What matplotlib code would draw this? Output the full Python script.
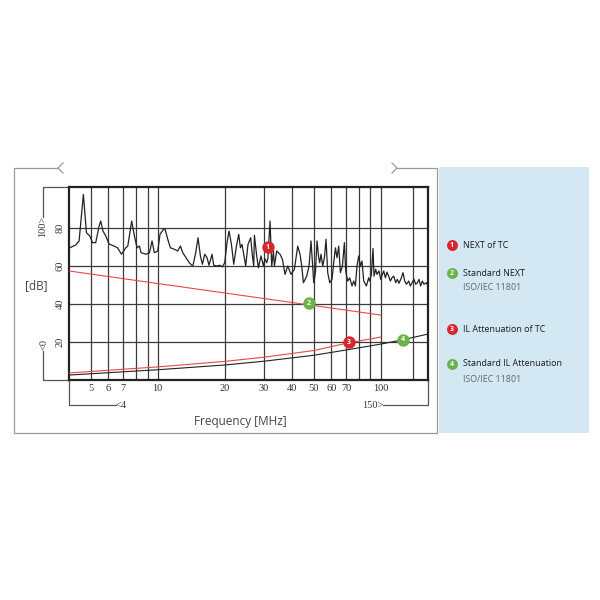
import matplotlib
matplotlib.use("Agg")
import matplotlib.pyplot as plt
from matplotlib.ticker import NullLocator

# ---- data (frequency in MHz, level in dB) ----
next_f = [4.03, 4.29, 4.44, 4.64, 4.79, 4.96, 5.10, 5.27, 5.46, 5.55, 5.68, 5.85,
          6.05, 6.37, 6.60, 6.88, 7.19, 7.34, 7.64, 7.86, 8.08, 8.28, 8.42, 8.86,
          9.18, 9.43, 9.66, 10.0, 10.24, 10.61, 10.78, 11.09, 11.40, 11.88, 12.29,
          12.64, 12.95, 13.40, 13.87, 14.21, 14.40, 14.80, 15.16, 15.54, 15.86,
          16.25, 16.64, 16.98, 17.52, 17.83, 18.33, 18.97, 19.50, 19.97, 20.45,
          20.88, 21.41, 21.92, 22.54, 23.08, 23.49, 23.88, 24.38, 24.81, 25.40,
          26.12, 26.59, 26.95, 27.14, 27.79, 28.29, 29.05, 29.79, 30.28, 30.82,
          31.2, 31.89, 32.45, 33.03, 33.37, 34.17, 35.36, 36.25, 37.24, 38.28,
          39.62, 41.02, 42.45, 43.47, 44.24, 45.02, 46.59, 47.71, 48.70, 49.57,
          50.08, 50.96, 51.80, 52.72, 53.27, 54.00, 54.95, 55.93, 56.86, 57.87,
          59.08, 60.50, 61.56, 62.66, 63.68, 64.82, 65.96, 67.35, 68.74, 69.67,
          71.12, 72.61, 74.35, 75.66, 77.00, 78.29, 79.68, 81.10, 82.44, 83.91,
          86.28, 88.36, 89.28, 90.86, 92.37, 93.33, 94.97, 96.25, 98.26, 100.0,
          101.8, 103.2, 105.0, 106.7, 108.6, 110.5, 112.4, 114.4, 116.8, 118.8,
          120.8, 123.8, 125.9, 128.2, 130.4, 133.6, 135.9, 138.2, 141.1, 143.5,
          146.2, 148.5, 151.1, 153.8, 156.4, 160.3, 163.0]
next_db = [69.6, 71.1, 73.2, 97.7, 77.5, 75.8, 72.3, 72.3, 81.1, 83.7, 78.4, 75.8,
           71.6, 70.5, 69.6, 66.2, 69.6, 70.5, 83.7, 75.8, 69.6, 70.5, 67.0, 66.2,
           67.0, 73.2, 67.0, 67.9, 76.7, 79.3, 79.6, 74.1, 69.6, 68.8, 67.9,
           70.5, 67.0, 64.4, 61.7, 60.4, 60.4, 67.0, 74.9, 65.3, 60.9,
           66.2, 64.4, 60.4, 66.2, 60.4, 60.0, 60.4, 59.6, 61.7, 72.3,
           78.4, 71.4, 60.9, 70.5, 76.7, 69.6, 71.4, 65.3, 60.0, 71.4,
           74.9, 65.3, 60.0, 76.2, 65.3, 59.1, 65.3, 60.0, 63.8, 61.7,
           64.0, 83.7, 60.0, 67.9, 60.0, 67.9, 66.2, 63.5, 55.6, 60.0,
           55.6, 58.3, 70.5, 66.2, 60.0, 51.2, 54.7, 60.0, 73.2, 59.1,
           51.2, 56.5, 73.2, 64.4, 61.7, 66.2, 60.0, 64.4, 74.1, 56.5,
           51.2, 53.0, 61.7, 69.6, 64.4, 70.5, 56.5, 60.0, 72.3, 57.4,
           52.1, 53.8, 49.5, 52.1, 49.5, 60.0, 65.3, 60.0, 62.6, 52.1,
           49.5, 53.8, 52.1, 55.6, 69.2, 54.7, 58.3, 55.6, 57.4, 53.0,
           55.6, 57.4, 53.8, 56.8, 54.7, 52.1, 53.8, 54.7, 51.2, 53.0,
           50.9, 53.8, 56.5, 52.1, 50.4, 52.1, 49.5, 51.2, 53.0, 50.4,
           51.2, 53.0, 49.5, 52.1, 50.4, 51.2, 49.5]

std_next_f = [4, 100]
std_next_db = [57.4, 34.2]

il_tc_f = [4, 10, 20, 30, 50, 70, 100]
il_tc_db = [3.7, 6.9, 9.8, 12.0, 15.5, 19.3, 22.6]

std_il_f = [4, 10, 20, 30, 50, 70, 100, 125, 163]
std_il_db = [2.6, 5.4, 7.9, 9.9, 13.0, 15.8, 18.9, 21.1, 24.2]

x_ticks = [5, 6, 7, 10, 20, 30, 40, 50, 60, 70, 100]
x_grid = [5, 6, 7, 8, 9, 10, 20, 30, 40, 50, 60, 70, 80, 90, 100, 140]
y_ticks = [20, 40, 60, 80]

badge_ids = ["1", "2", "3", "4"]
badge_f = [31.1, 47.7, 71.9, 125.5]
badge_db = [70.0, 40.4, 20.0, 21.1]

legend_titles = ["NEXT of TC", "Standard NEXT", "IL Attenuation of TC", "Standard IL Attenuation"]
legend_subs = [None, "ISO/IEC 11801", None, "ISO/IEC 11801"]

RED = "#d8262c"
GREEN = "#6ab24a"
badge_colors = [RED, GREEN, RED, GREEN]
LINE_RED = "#e8474b"
FRAME = "#9a9a9a"
PANEL = "#d4e8f4"
SANS = "Open Sans"
SERIF = "Liberation Serif"

fig = plt.figure(figsize=(6, 6), dpi=100, facecolor="white")

# decoration layer in pixel coordinates (frame, brackets, side panel)
deco = fig.add_axes([0, 0, 1, 1], zorder=0)
deco.set_xlim(0, 600)
deco.set_ylim(600, 0)
deco.axis("off")

# outer frame with broken top edge
deco.plot([58, 14, 14, 437, 437, 397], [168, 168, 433, 433, 168, 168], color=FRAME, lw=0.9)
deco.plot([63, 58, 63], [163, 168, 173], color=FRAME, lw=0.9)
deco.plot([392, 397, 392], [163, 168, 173], color=FRAME, lw=0.9)

# side panel
deco.add_patch(plt.Rectangle((439, 167), 150, 266, facecolor=PANEL, edgecolor="none"))

# range brackets
bk = "#555555"
deco.plot([69, 43, 43], [187, 187, 217], color=bk, lw=0.9)
deco.plot([43, 43, 69], [351, 380, 380], color=bk, lw=0.9)
deco.plot([69, 69, 116], [380, 405, 405], color=bk, lw=0.9)
deco.plot([383, 428, 428], [405, 405, 380], color=bk, lw=0.9)
deco.text(43, 226, "100>", rotation=90, ha="center", va="center",
          fontsize=7.5, family=SERIF, color="#333333")
deco.text(44, 344, "<0", rotation=90, ha="center", va="center",
          fontsize=7.5, family=SERIF, color="#333333")
deco.text(116, 406, "<4", ha="left", va="center",
          fontsize=7.5, family=SERIF, color="#333333")
deco.text(383, 406, "150>", ha="right", va="center",
          fontsize=7.5, family=SERIF, color="#333333")

deco.text(36, 286, "[dB]", ha="center", va="center", fontsize=8.5, family=SANS, color="#444444")
deco.text(240, 422, "Frequency [MHz]", ha="center", va="center", fontsize=8.5,
          family=SANS, color="#444444")

# legend inside the side panel
leg_y = [245, 273, 329, 364]
for bid, col, title, sub, y in zip(badge_ids, badge_colors, legend_titles, legend_subs, leg_y):
    deco.scatter([452], [y], s=62, color=col, zorder=3, linewidths=0)
    deco.text(452, y + 0.5, bid, ha="center", va="center", fontsize=5, color="white",
              fontweight="bold", family=SANS, zorder=4)
    deco.text(463, y, title, ha="left", va="center", fontsize=6.4, family=SANS, color="#1a1a1a")
    if sub:
        deco.text(463, y + 15, sub, ha="left", va="center", fontsize=6.4, family=SANS,
                  color="#666666")

# main chart
ax = fig.add_axes([69 / 600, 1 - 380 / 600, 359 / 600, 193 / 600], zorder=1)
ax.set_xscale("log")
ax.set_xlim(4, 163)
ax.set_ylim(0, 101.6)
ax.set_facecolor("white")

ax.vlines(x_grid, 0, 101.6, color="#3a3a3a", lw=0.9, zorder=1)
ax.hlines(y_ticks, 4, 163, color="#3a3a3a", lw=0.9, zorder=1)

ax.plot(next_f, next_db, color="#222222", lw=0.9, zorder=3)
ax.plot(std_next_f, std_next_db, color=LINE_RED, lw=0.8, zorder=3)
ax.plot(il_tc_f, il_tc_db, color=LINE_RED, lw=0.8, zorder=3)
ax.plot(std_il_f, std_il_db, color="#222222", lw=0.8, zorder=3)

for bid, f, db, col in zip(badge_ids, badge_f, badge_db, badge_colors):
    ax.scatter([f], [db], s=80, color=col, zorder=5, linewidths=0)
    ax.text(f, db, bid, ha="center", va="center", fontsize=5, color="white",
            fontweight="bold", family=SANS, zorder=6)

ax.xaxis.set_minor_locator(NullLocator())
ax.set_xticks(x_ticks)
ax.set_xticklabels([str(v) for v in x_ticks], fontsize=7.5, family=SERIF, color="#333333")
ax.set_yticks(y_ticks)
ax.set_yticklabels([str(v) for v in y_ticks], fontsize=7.5, family=SERIF, color="#333333",
                   rotation=90, va="center")
ax.tick_params(length=0, pad=3)
for sp in ax.spines.values():
    sp.set_linewidth(1.6)
    sp.set_color("#222222")

fig.savefig("out.png", dpi=100, facecolor="white")
